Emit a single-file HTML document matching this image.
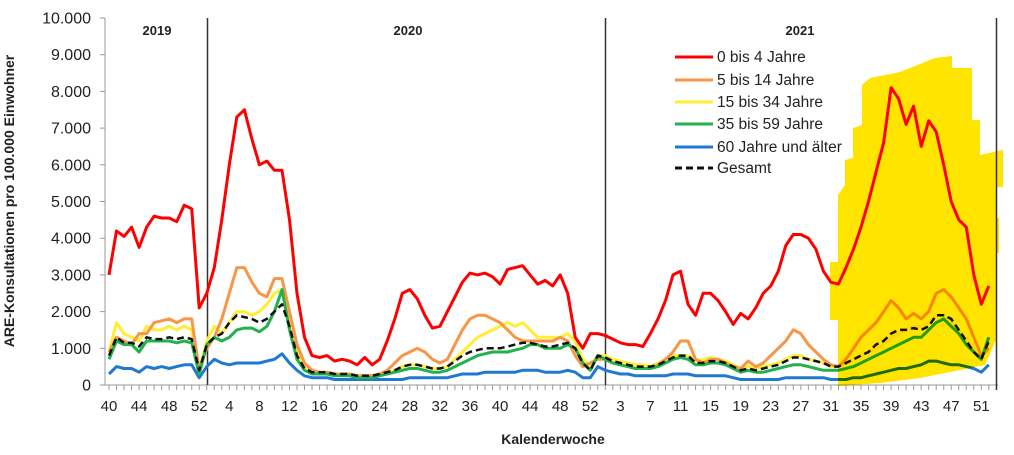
<!DOCTYPE html>
<html><head><meta charset="utf-8"><style>
html,body{margin:0;padding:0;background:#fff;}
svg{display:block;font-family:"Liberation Sans",sans-serif;}
</style></head><body>
<svg id="s" width="1014" height="455" viewBox="0 0 1014 455" xmlns="http://www.w3.org/2000/svg">
<rect width="1014" height="455" fill="#fff"/>
<g id="axes" stroke="#999" stroke-width="1"></g>
<g font-size="16" fill="#222" text-anchor="end" id="ylab"></g>
<g font-size="15" fill="#222" text-anchor="middle" id="xlab"></g>
<line x1="207.5" y1="18" x2="207.5" y2="385" stroke="#333" stroke-width="1.5"/>
<line x1="605.5" y1="18" x2="605.5" y2="385" stroke="#333" stroke-width="1.5"/>
<line x1="996.5" y1="18" x2="996.5" y2="390" stroke="#333" stroke-width="1.5"/>
<g font-size="13" font-weight="bold" fill="#222" text-anchor="middle">
<text x="157" y="35">2019</text><text x="408" y="35">2020</text><text x="800" y="35">2021</text>
</g>
<g id="series" fill="none" stroke-linejoin="round"></g>
<polygon style="mix-blend-mode:multiply" fill="#ffe400" points="830,262 838,262 838,195 845,185 845,160 853,158 853,128 862,125 862,85 870,78 900,72 935,58 952,56 952,68 972,68 972,120 980,120 980,155 993,152 1003,150 1003,187 997,187 997,218 999,218 999,253 996,253 996,340 985,365 960,370 920,378 880,383 838,386 838,320 830,320"/>
<text x="14" y="201" transform="rotate(-90 14 201)" font-size="14" font-weight="bold" fill="#222" text-anchor="middle">ARE-Konsultationen pro 100.000 Einwohner</text>
<text x="553" y="444" font-size="14" font-weight="bold" fill="#222" text-anchor="middle">Kalenderwoche</text>
<g font-size="15.5" fill="#222">
<line x1="675" y1="57" x2="713" y2="57" stroke="#ff0000" stroke-width="3"/><text x="717" y="62">0 bis 4 Jahre</text>
<line x1="675" y1="80" x2="713" y2="80" stroke="#f79646" stroke-width="3"/><text x="717" y="85">5 bis 14 Jahre</text>
<line x1="675" y1="102" x2="713" y2="102" stroke="#ffee33" stroke-width="3"/><text x="717" y="107">15 bis 34 Jahre</text>
<line x1="675" y1="124" x2="713" y2="124" stroke="#22b14c" stroke-width="3"/><text x="717" y="129">35 bis 59 Jahre</text>
<line x1="675" y1="147" x2="713" y2="147" stroke="#1f78d1" stroke-width="3"/><text x="717" y="152">60 Jahre und älter</text>
<line x1="675" y1="168" x2="713" y2="168" stroke="#111" stroke-width="3" stroke-dasharray="7,4"/><text x="717" y="173">Gesamt</text>
</g>
</svg>
<script>
var NS="http://www.w3.org/2000/svg";
function el(p,t,a,txt){var e=document.createElementNS(NS,t);for(var k in a)e.setAttribute(k,a[k]);if(txt!==undefined)e.textContent=txt;document.getElementById(p).appendChild(e);return e;}
function Y(v){return 385-v*0.0367;}
function X(i){return 109+i*7.52;}
el("axes","line",{x1:105,y1:18,x2:105,y2:385});
el("axes","line",{x1:105,y1:385,x2:998,y2:385});
for(var k=0;k<=10;k++){var y=Y(k*1000);el("axes","line",{x1:100,y1:y,x2:105,y2:y});
el("ylab","text",{x:91,y:y+5.5},(k==0?"0":k+".000"));}
for(var i=0;i<=118;i++){var x=X(i);el("axes","line",{x1:x,y1:385,x2:x,y2:390});}
var labs=[];
[40,44,48,52].forEach(function(w){labs.push([w-40,w]);});
[4,8,12,16,20,24,28,32,36,40,44,48,52].forEach(function(w){labs.push([12+w,w]);});
[3,7,11,15,19,23,27,31,35,39,43,47,51].forEach(function(w){labs.push([65+w,w]);});
labs.forEach(function(l){el("xlab","text",{x:X(l[0]),y:411},String(l[1]));});
var D={
red:[3000,4200,4050,4300,3750,4300,4600,4550,4550,4450,4900,4800,2100,
2500,3200,4500,6000,7300,7500,6700,6000,6100,5850,5850,4500,2500,1300,800,750,800,650,700,650,550,750,550,700,1200,1800,2500,2600,2350,1900,1550,1600,2000,2400,2800,3050,3000,3050,2950,2750,3150,3200,3250,3000,2750,2850,2700,3000,2500,1300,1000,1400,1400,
1350,1250,1150,1100,1100,1050,1400,1800,2300,3000,3100,2200,1900,2500,2500,2300,2000,1650,1950,1800,2100,2500,2700,3100,3800,4100,4100,4000,3700,3100,2800,2750,3200,3700,4300,5000,5800,6600,8100,7800,7100,7600,6500,7200,6900,6000,5000,4500,4300,3000,2200,2700],
orange:[900,1300,1200,1100,1400,1400,1700,1750,1800,1700,1800,1800,400,
1000,1300,1800,2500,3200,3200,2800,2500,2400,2900,2900,2000,1100,600,400,350,350,300,300,300,250,250,250,300,400,600,800,900,1000,900,700,600,700,1100,1500,1800,1900,1900,1800,1700,1500,1300,1200,1200,1200,1200,1200,1300,1200,800,500,600,700,
700,600,550,500,450,450,450,550,700,900,1200,1200,700,600,700,700,600,500,450,650,500,600,800,1000,1200,1500,1400,1100,900,700,550,500,700,1000,1300,1500,1700,2000,2300,2100,1800,1950,1800,2000,2500,2600,2400,2100,1800,1300,800,1000],
yellow:[900,1700,1400,1300,1200,1600,1500,1500,1600,1500,1600,1500,400,
1200,1600,1400,1700,2000,2000,1900,2000,2200,2500,2600,1800,900,500,400,350,350,300,300,300,250,250,250,300,350,400,500,550,550,500,450,450,500,700,900,1100,1300,1400,1500,1600,1700,1600,1700,1500,1300,1300,1300,1300,1400,1200,700,500,800,
800,700,650,600,550,550,500,600,700,800,800,800,650,700,750,700,650,550,450,500,450,500,550,600,700,800,800,700,650,600,500,500,600,700,800,900,1000,1100,1300,1400,1500,1600,1600,1700,1900,1900,1700,1500,1300,1000,700,1100],
green:[700,1200,1100,1100,900,1200,1200,1200,1200,1150,1200,1150,300,
1100,1300,1200,1300,1500,1550,1550,1450,1600,2000,2600,1500,700,400,300,300,300,250,250,250,200,200,200,250,300,350,400,450,450,400,350,350,400,500,600,700,800,850,900,900,900,950,1000,1100,1100,1000,1000,1000,1100,1000,600,400,800,
700,600,550,500,450,450,450,500,600,700,750,700,550,550,600,600,550,450,350,400,350,350,400,450,500,550,550,500,450,400,400,400,450,500,600,700,800,900,1000,1100,1200,1300,1300,1500,1700,1800,1600,1400,1100,900,700,1300],
blue:[300,500,450,450,350,500,450,500,450,500,550,550,200,
500,700,600,550,600,600,600,600,650,700,850,600,400,250,200,200,200,150,150,150,150,150,150,150,150,150,150,200,200,200,200,200,200,250,300,300,300,350,350,350,350,350,400,400,400,350,350,350,400,350,200,200,500,
400,350,300,300,250,250,250,250,250,300,300,300,250,250,250,250,250,200,150,150,150,150,150,150,200,200,200,200,200,200,150,150,150,200,200,250,300,350,400,450,450,500,550,650,650,600,550,550,500,450,350,550],
ges:[800,1300,1150,1150,1050,1300,1250,1250,1300,1250,1300,1250,400,
1100,1300,1400,1700,1900,1850,1800,1700,1800,2000,2200,1600,800,450,350,350,350,300,300,300,250,250,250,300,350,400,500,550,550,500,450,450,500,650,800,900,950,1000,1000,1000,1050,1100,1150,1150,1100,1050,1050,1100,1150,1000,600,400,800,
750,650,600,550,500,500,500,550,650,750,800,800,600,600,650,650,600,500,400,450,400,450,500,550,650,750,750,700,650,600,500,500,600,700,800,900,1100,1200,1400,1500,1500,1550,1500,1600,1900,1900,1800,1500,1200,900,700,1200]};
function pl(a,st){var n=a.length,pts=[];var sc=118/(n-1);for(var i=0;i<n;i++)pts.push(X(i*Math.min(1,sc)).toFixed(1)+","+Y(a[i]).toFixed(1));
var e=el("series","polyline",st);e.setAttribute("points",pts.join(" "));}
pl(D.blue,{stroke:"#1f78d1","stroke-width":3});
pl(D.yellow,{stroke:"#ffee33","stroke-width":3});
pl(D.orange,{stroke:"#f79646","stroke-width":3});
pl(D.green,{stroke:"#22b14c","stroke-width":3});
pl(D.ges,{stroke:"#111","stroke-width":2.5,"stroke-dasharray":"7,4"});
pl(D.red,{stroke:"#ff0000","stroke-width":3});
</script>
</body></html>
